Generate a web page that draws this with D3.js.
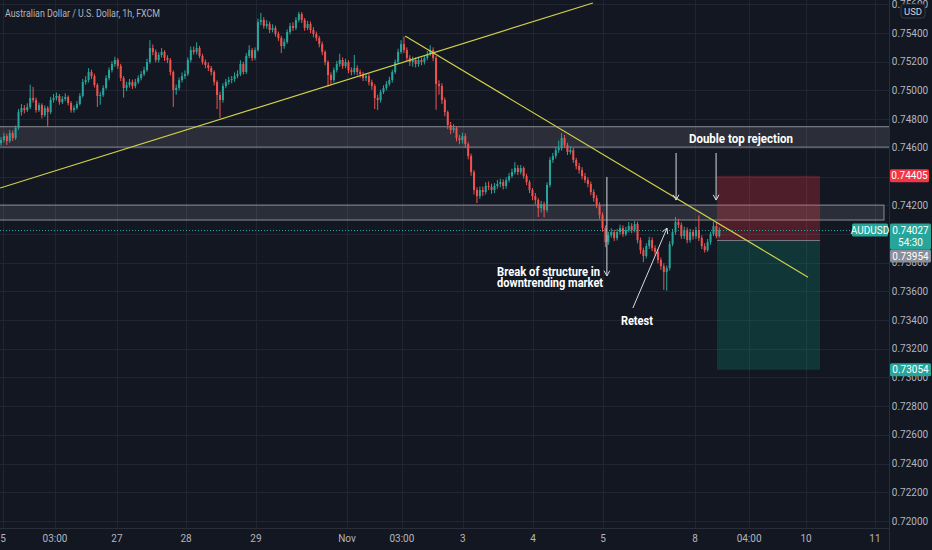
<!DOCTYPE html>
<html lang="en">
<head>
<meta charset="UTF-8" />
<title>AUDUSD 1h</title>
<script src="https://d3js.org/d3.v7.min.js"></script>
<style>
  body { margin: 0; background: #131722; }
  svg text { font-family: "Liberation Sans Narrow", "Roboto", sans-serif; }
</style>
</head>
<body>
<svg id="chart" width="932" height="550"></svg>
<script>
// AUD/USD hourly candles (open = previous close)
const firstOpen = 0.74633;
const closes = [
  0.74654,0.74682,0.74647,0.74703,0.74668,0.74738,0.74849,0.74877,0.74863,0.74884,
  0.74947,0.74933,0.74863,0.74898,0.74828,0.74877,0.74849,0.74933,0.74947,0.74961,
  0.74919,0.74940,0.74954,0.74912,0.74863,0.74877,0.74905,0.74961,0.75058,0.75072,
  0.75128,0.75100,0.75038,0.74961,0.74968,0.75017,0.75086,0.75142,0.75184,0.75212,
  0.75170,0.75086,0.75017,0.75038,0.75058,0.75031,0.75058,0.75086,0.75114,0.75142,
  0.75198,0.75295,0.75268,0.75212,0.75247,0.75268,0.75226,0.75212,0.75128,0.75003,
  0.75017,0.75072,0.75100,0.75114,0.75212,0.75281,0.75268,0.75295,0.75240,0.75198,
  0.75177,0.75156,0.75128,0.75058,0.74968,0.74933,0.75031,0.75058,0.75072,0.75079,
  0.75100,0.75114,0.75184,0.75128,0.75240,0.75281,0.75226,0.75281,0.75477,0.75491,
  0.75449,0.75463,0.75421,0.75435,0.75393,0.75365,0.75309,0.75337,0.75407,0.75449,
  0.75435,0.75491,0.75532,0.75491,0.75435,0.75463,0.75421,0.75393,0.75365,0.75323,
  0.75268,0.75198,0.75107,0.75072,0.75142,0.75184,0.75212,0.75170,0.75198,0.75142,
  0.75128,0.75156,0.75128,0.75114,0.75086,0.75100,0.75058,0.75031,0.74947,0.74933,
  0.74989,0.75017,0.75045,0.75072,0.75128,0.75198,0.75268,0.75323,0.75281,0.75226,
  0.75198,0.75212,0.75184,0.75212,0.75198,0.75226,0.75254,0.75281,0.75226,0.75045,
  0.75031,0.74933,0.74849,0.74759,0.74724,0.74738,0.74668,0.74654,0.74682,0.74626,
  0.74543,0.74431,0.74306,0.74264,0.74306,0.74292,0.74334,0.74328,0.74306,0.74334,
  0.74348,0.74361,0.74334,0.74375,0.74403,0.74431,0.74459,0.74431,0.74459,0.74403,
  0.74361,0.74306,0.74264,0.74236,0.74180,0.74208,0.74166,0.74341,0.74515,0.74543,
  0.74584,0.74598,0.74668,0.74619,0.74571,0.74584,0.74515,0.74473,0.74445,0.74403,
  0.74375,0.74348,0.74292,0.74250,0.74201,0.74131,0.74041,0.73943,0.73992,0.74013,
  0.73971,0.74013,0.74041,0.73999,0.74027,0.74055,0.74027,0.74069,0.73957,0.73887,
  0.73846,0.73915,0.73957,0.73901,0.73874,0.73818,0.73776,0.73734,0.73762,0.73929,
  0.74013,0.74083,0.74062,0.73985,0.74027,0.73957,0.74013,0.73985,0.74027,0.73971,
  0.73915,0.73887,0.73943,0.73999,0.74055,0.73985,0.74027
];
const highs = [
  0.74675,0.74705,0.74698,0.74725,0.74720,0.74755,0.74870,0.74905,0.74898,0.74910,
  0.75040,0.75025,0.74950,0.74915,0.74910,0.74895,0.74890,0.74955,0.74975,0.74985,
  0.74975,0.74960,0.74980,0.74965,0.74925,0.74895,0.74925,0.74980,0.75080,0.75100,
  0.75155,0.75145,0.75115,0.75050,0.74990,0.75035,0.75105,0.75160,0.75205,0.75235,
  0.75225,0.75185,0.75100,0.75060,0.75080,0.75075,0.75080,0.75105,0.75135,0.75165,
  0.75220,0.75350,0.75320,0.75285,0.75265,0.75295,0.75280,0.75245,0.75225,0.75140,
  0.75040,0.75090,0.75125,0.75140,0.75230,0.75305,0.75305,0.75335,0.75310,0.75255,
  0.75215,0.75195,0.75170,0.75140,0.75070,0.74990,0.75050,0.75080,0.75095,0.75100,
  0.75125,0.75140,0.75210,0.75200,0.75260,0.75315,0.75295,0.75300,0.75500,0.75540,
  0.75510,0.75490,0.75480,0.75460,0.75450,0.75410,0.75380,0.75360,0.75425,0.75470,
  0.75475,0.75510,0.75548,0.75545,0.75505,0.75485,0.75480,0.75440,0.75410,0.75380,
  0.75340,0.75280,0.75210,0.75125,0.75160,0.75205,0.75255,0.75230,0.75220,0.75210,
  0.75160,0.75247,0.75175,0.75145,0.75130,0.75120,0.75115,0.75075,0.75045,0.74970,
  0.75005,0.75035,0.75065,0.75095,0.75145,0.75215,0.75290,0.75350,0.75375,0.75300,
  0.75245,0.75235,0.75230,0.75235,0.75230,0.75245,0.75275,0.75315,0.75300,0.75240,
  0.75070,0.75050,0.74950,0.74860,0.74780,0.74765,0.74750,0.74690,0.74705,0.74700,
  0.74640,0.74560,0.74445,0.74325,0.74330,0.74330,0.74360,0.74365,0.74350,0.74355,
  0.74375,0.74385,0.74380,0.74395,0.74425,0.74455,0.74500,0.74480,0.74480,0.74470,
  0.74420,0.74375,0.74320,0.74285,0.74250,0.74230,0.74225,0.74360,0.74535,0.74565,
  0.74605,0.74650,0.74703,0.74690,0.74635,0.74610,0.74600,0.74530,0.74495,0.74465,
  0.74425,0.74395,0.74365,0.74310,0.74270,0.74220,0.74150,0.74060,0.74015,0.74040,
  0.74030,0.74035,0.74065,0.74060,0.74050,0.74083,0.74075,0.74090,0.74085,0.73975,
  0.73905,0.73935,0.73980,0.73975,0.73920,0.73895,0.73835,0.73795,0.73780,0.73950,
  0.74035,0.74118,0.74105,0.74080,0.74050,0.74045,0.74035,0.74030,0.74050,0.74130,
  0.73990,0.73935,0.73965,0.74015,0.74085,0.74080,0.74045
];
const lows = [
  0.74615,0.74638,0.74620,0.74635,0.74648,0.74655,0.74725,0.74825,0.74840,0.74850,
  0.74870,0.74915,0.74845,0.74850,0.74805,0.74815,0.74745,0.74835,0.74915,0.74930,
  0.74900,0.74905,0.74925,0.74895,0.74845,0.74845,0.74865,0.74895,0.74950,0.75040,
  0.75055,0.75080,0.75020,0.74885,0.74900,0.74955,0.75005,0.75070,0.75125,0.75165,
  0.75150,0.75065,0.74950,0.74995,0.75020,0.75010,0.75015,0.75045,0.75070,0.75100,
  0.75130,0.75185,0.75245,0.75195,0.75195,0.75230,0.75205,0.75190,0.75105,0.74885,
  0.74970,0.75000,0.75055,0.75080,0.75100,0.75195,0.75250,0.75250,0.75225,0.75180,
  0.75155,0.75135,0.75105,0.75035,0.74870,0.74808,0.74915,0.75015,0.75040,0.75050,
  0.75060,0.75085,0.75100,0.75110,0.75115,0.75225,0.75205,0.75210,0.75270,0.75455,
  0.75430,0.75430,0.75400,0.75405,0.75375,0.75345,0.75260,0.75290,0.75325,0.75390,
  0.75415,0.75420,0.75475,0.75470,0.75415,0.75420,0.75400,0.75370,0.75345,0.75300,
  0.75245,0.75175,0.75025,0.75035,0.75055,0.75125,0.75165,0.75150,0.75155,0.75120,
  0.75105,0.75110,0.75105,0.75090,0.75065,0.75065,0.75035,0.75005,0.74870,0.74863,
  0.74915,0.74975,0.75000,0.75030,0.75055,0.75115,0.75185,0.75255,0.75260,0.75205,
  0.75170,0.75165,0.75160,0.75165,0.75175,0.75180,0.75210,0.75240,0.75205,0.74865,
  0.74970,0.74905,0.74820,0.74730,0.74695,0.74705,0.74645,0.74625,0.74630,0.74600,
  0.74520,0.74405,0.74275,0.74215,0.74245,0.74265,0.74275,0.74305,0.74280,0.74285,
  0.74315,0.74325,0.74310,0.74315,0.74360,0.74390,0.74415,0.74410,0.74415,0.74385,
  0.74340,0.74285,0.74235,0.74205,0.74118,0.74150,0.74115,0.74150,0.74325,0.74495,
  0.74525,0.74565,0.74580,0.74600,0.74550,0.74555,0.74495,0.74450,0.74420,0.74380,
  0.74355,0.74325,0.74270,0.74225,0.74180,0.74105,0.74015,0.73908,0.73925,0.73975,
  0.73950,0.73955,0.73995,0.73980,0.73985,0.74010,0.74005,0.74010,0.73935,0.73860,
  0.73804,0.73830,0.73895,0.73880,0.73850,0.73795,0.73750,0.73610,0.73605,0.73745,
  0.73915,0.73995,0.74040,0.73965,0.73965,0.73935,0.73940,0.73960,0.73965,0.73950,
  0.73895,0.73870,0.73875,0.73925,0.73985,0.73970,0.73975
];

// axes
const priceTicks = [0.720,0.722,0.724,0.726,0.728,0.730,0.732,0.734,0.736,0.738,
                    0.740,0.742,0.744,0.746,0.748,0.750,0.752,0.754,0.756];
const timeTickBars = [0.7, 18.5, 39.7, 63.4, 87.3, 118.5, 137.3, 158.2, 182.2, 206.2, 237.7, 256.2, 275.7, 299.3];
const timeTickLabels = ["5","03:00","27","28","29","Nov","03:00","3","4","5","8","04:00","10","11"];

// drawings: zones [fromBar, toBar, top, bottom]
const zoneFrom = [-5, -5];
const zoneTo = [310, 302.4];
const zoneTop = [0.74747, 0.74201];
const zoneBottom = [0.74605, 0.74097];

// trend lines [bar, price]
const trendStart = [[-0.3, 0.74320], [138.4, 0.75379]];
const trendEnd = [[202.7, 0.75609], [276.4, 0.73699]];

// short position
const posFrom = 245.2, posTo = 280.5;
const entryPrice = 0.73954, stopPrice = 0.74405, targetPrice = 0.73054;
const lastPrice = 0.74027;
const countdown = "54:30";

// arrows [bar, price] tail -> tip
const arrowTail = [[207.5, 0.74397], [231.2, 0.74564], [244.9, 0.74564], [216.4, 0.73484]];
const arrowTip  = [[207.5, 0.73707], [231.2, 0.74236], [244.9, 0.74236], [228.1, 0.74041]];

// notes [bar, price] at text start/baseline
const noteText = ["Double top rejection", "Break of structure in", "downtrending market", "Retest"];
const noteAt = [[235.6, 0.74634], [169.9, 0.73706], [169.9, 0.73630], [212.3, 0.73363]];

const svg = d3.select("#chart");
const width = +svg.attr("width");
const height = +svg.attr("height");
const plotRight = 889, plotBottom = 528;
const noteWidths = [104, 103, 106, 32];

const bg = "#131722", gridColor = "#212533", axisText = "#b2b5be";
const up = "#26a69a", down = "#ef5350";

const x = d3.scaleLinear().domain([0, 246]).range([1, 719.3]);
const y = d3.scaleLinear().domain([0.720, 0.754]).range([521, 33]);

svg.append("rect").attr("width", width).attr("height", height).attr("fill", bg);

svg.append("defs").append("clipPath").attr("id", "plotClip")
  .append("rect").attr("width", plotRight).attr("height", plotBottom);

const plot = svg.append("g").attr("clip-path", "url(#plotClip)");

// grid
plot.selectAll("line.hgrid").data(priceTicks).join("line")
  .attr("class", "hgrid")
  .attr("x1", 0).attr("x2", plotRight)
  .attr("y1", d => Math.round(y(d)) + 0.5).attr("y2", d => Math.round(y(d)) + 0.5)
  .attr("stroke", gridColor);
plot.selectAll("line.vgrid").data(timeTickBars).join("line")
  .attr("class", "vgrid")
  .attr("x1", d => Math.round(x(d)) + 0.5).attr("x2", d => Math.round(x(d)) + 0.5)
  .attr("y1", 0).attr("y2", plotBottom)
  .attr("stroke", gridColor);

// zones
zoneTop.forEach((t, i) => {
  plot.append("rect")
    .attr("x", x(zoneFrom[i])).attr("y", y(t))
    .attr("width", x(zoneTo[i]) - x(zoneFrom[i]))
    .attr("height", y(zoneBottom[i]) - y(t))
    .attr("fill", "rgba(255,255,255,0.1)")
    .attr("stroke", "#8a8d96").attr("stroke-width", 1);
});

// position box
plot.append("rect")
  .attr("x", x(posFrom)).attr("y", y(stopPrice))
  .attr("width", x(posTo) - x(posFrom)).attr("height", y(entryPrice) - y(stopPrice))
  .attr("fill", "rgba(242,54,69,0.27)");
plot.append("rect")
  .attr("x", x(posFrom)).attr("y", y(entryPrice))
  .attr("width", x(posTo) - x(posFrom)).attr("height", y(targetPrice) - y(entryPrice))
  .attr("fill", "rgba(8,153,129,0.24)");
plot.append("line")
  .attr("x1", x(posFrom)).attr("x2", x(posTo))
  .attr("y1", y(entryPrice)).attr("y2", y(entryPrice))
  .attr("stroke", "#787b86");

// last price line
plot.append("line")
  .attr("x1", 0).attr("x2", plotRight)
  .attr("y1", Math.round(y(lastPrice)) + 0.5).attr("y2", Math.round(y(lastPrice)) + 0.5)
  .attr("stroke", up).attr("stroke-dasharray", "1,2");

// candles
const candles = closes.map((c, i) => ({
  i: i, open: i ? closes[i - 1] : firstOpen, close: c, high: highs[i], low: lows[i]
}));
const cg = plot.append("g");
cg.selectAll("line").data(candles).join("line")
  .attr("x1", d => x(d.i)).attr("x2", d => x(d.i))
  .attr("y1", d => y(d.high)).attr("y2", d => y(d.low))
  .attr("stroke", d => d.close >= d.open ? up : down).attr("stroke-width", 1);
cg.selectAll("rect").data(candles).join("rect")
  .attr("x", d => x(d.i) - 1)
  .attr("y", d => y(Math.max(d.open, d.close)))
  .attr("width", 2)
  .attr("height", d => Math.max(1, Math.abs(y(d.open) - y(d.close))))
  .attr("fill", d => d.close >= d.open ? up : down);

// trend lines
trendStart.forEach((s, i) => {
  plot.append("line")
    .attr("x1", x(s[0])).attr("y1", y(s[1]))
    .attr("x2", x(trendEnd[i][0])).attr("y2", y(trendEnd[i][1]))
    .attr("stroke", "#cfd04a").attr("stroke-width", 1.2);
});

// arrows
arrowTail.forEach((t, i) => {
  const x1 = x(t[0]), y1 = y(t[1]), x2 = x(arrowTip[i][0]), y2 = y(arrowTip[i][1]);
  const a = Math.atan2(y2 - y1, x2 - x1);
  const g = plot.append("g").attr("stroke", "#d8d9de").attr("stroke-width", 1).attr("fill", "none");
  g.append("line").attr("x1", x1).attr("y1", y1).attr("x2", x2).attr("y2", y2);
  [-1, 1].forEach(s => {
    g.append("line").attr("x1", x2).attr("y1", y2)
      .attr("x2", x2 - 6 * Math.cos(a + s * 0.5)).attr("y2", y2 - 6 * Math.sin(a + s * 0.5));
  });
});

// notes
noteText.forEach((t, i) => {
  plot.append("text")
    .attr("x", x(noteAt[i][0])).attr("y", y(noteAt[i][1]))
    .attr("fill", "#ffffff").style("font-size", "12.5px").style("font-weight", "bold")
    .attr("textLength", noteWidths[i]).attr("lengthAdjust", "spacingAndGlyphs")
    .text(t);
});

// title
svg.append("text").attr("x", 5).attr("y", 16.5)
  .attr("fill", axisText).style("font-size", "11.5px")
  .attr("textLength", 155).attr("lengthAdjust", "spacingAndGlyphs")
  .text("Australian Dollar / U.S. Dollar, 1h, FXCM");

// axis borders
svg.append("line").attr("x1", plotRight + 0.5).attr("x2", plotRight + 0.5)
  .attr("y1", 0).attr("y2", height).attr("stroke", "#2a2e39");
svg.append("line").attr("x1", 0).attr("x2", plotRight)
  .attr("y1", plotBottom + 0.5).attr("y2", plotBottom + 0.5).attr("stroke", "#2a2e39");

// price axis labels (the one fully under the last-price tag is hidden)
svg.selectAll("text.ptick")
  .data(priceTicks.filter(d => Math.abs(y(d) - y(lastPrice)) > 8))
  .join("text")
  .attr("class", "ptick")
  .attr("x", 910).attr("y", d => y(d) + 3.5)
  .attr("text-anchor", "middle")
  .attr("fill", axisText).style("font-size", "10px")
  .text(d => d.toFixed(5));

// time axis labels
svg.selectAll("text.ttick").data(timeTickBars).join("text")
  .attr("class", "ttick")
  .attr("x", d => Math.max(3, x(d))).attr("y", 542)
  .attr("text-anchor", "middle")
  .attr("fill", axisText).style("font-size", "10px")
  .text((d, i) => timeTickLabels[i]);

// USD badge
svg.append("rect").attr("x", 901).attr("y", 4).attr("width", 24).attr("height", 14)
  .attr("rx", 3).attr("fill", bg).attr("stroke", "#363a45");
svg.append("text").attr("x", 913).attr("y", 14.5).attr("text-anchor", "middle")
  .attr("fill", "#d1d4dc").style("font-size", "9.5px").text("USD");

// price tags
function tag(yc, h, fill, lines, x0, w) {
  svg.append("rect").attr("x", x0).attr("y", yc - 6.5).attr("width", w).attr("height", h)
    .attr("rx", 1.5).attr("fill", fill);
  lines.forEach((t, k) => {
    svg.append("text").attr("x", x0 + w / 2).attr("y", yc + 3.5 + k * 12)
      .attr("text-anchor", "middle").attr("fill", "#ffffff").style("font-size", "10px").text(t);
  });
}
tag(y(stopPrice), 13, "#f23645", [stopPrice.toFixed(5)], 890, 39);
tag(y(lastPrice), 26, up, [lastPrice.toFixed(5), countdown], 890, 41);
tag(y(lastPrice), 13, up, ["AUDUSD"], 852, 36);
tag(y(lastPrice) + 26, 13, "#8b8e98", [entryPrice.toFixed(5)], 890, 41);
tag(y(targetPrice), 13, up, [targetPrice.toFixed(5)], 890, 41);
</script>
</body>
</html>
